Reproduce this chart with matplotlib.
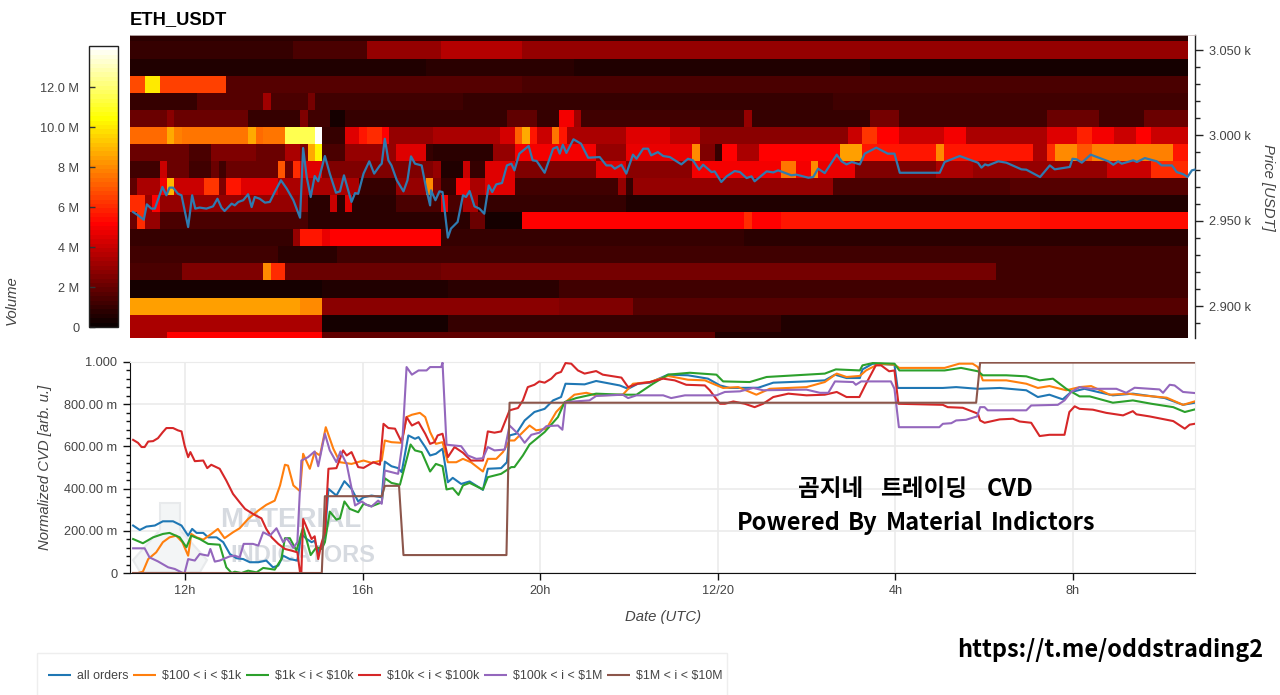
# ETH_USDT 호가 히트맵 + 정규화 CVD 차트
import numpy as np
import matplotlib
matplotlib.use('Agg')
import matplotlib.pyplot as plt
from matplotlib.lines import Line2D
from matplotlib.patches import Polygon, Rectangle
from matplotlib.ticker import FixedLocator, MultipleLocator

plt.rcParams['font.family'] = ['Liberation Sans', 'DejaVu Sans']
plt.rcParams['axes.unicode_minus'] = False

# 데이터
# 히트맵: 가격대별 (연속 칸 수, 거래량 M)
price_levels = [3060, 3050, 3040, 3030, 3020, 3010, 3000, 2990, 2980, 2970, 2960, 2950, 2940, 2930, 2920, 2910, 2900, 2890, 2880]
r3060 = [(143, 0.8)]
r3050 = [(22, 1.0), (10, 1.5), (10, 3.0), (11, 3.7), (50, 3.0), (40, 2.9)]
r3040 = [(40, 0.5), (20, 0.7), (40, 0.5), (43, 0.4)]
r3030 = [(2, 6.6), (2, 10.0), (9, 6.4), (40, 1.6), (50, 1.5), (40, 1.4)]
r3020 = [(9, 1.0), (9, 1.7), (1, 3.1), (5, 1.5), (1, 2.4), (20, 1.2), (50, 1.0), (48, 1.2)]
r3010 = [(5, 2.0), (1, 2.8), (10, 2.0), (7, 1.0), (1, 2.6), (3, 1.2), (2, 0.3), (22, 0.9), (4, 1.8), (3, 1.0), (2, 5.0), (1, 3.2), (22, 1.3), (1, 3.0), (16, 1.0), (4, 2.4), (20, 1.2), (7, 2.0), (6, 1.2), (6, 2.0)]
r3000 = [(5, 7.4), (1, 8.6), (1, 7.8), (9, 7.5), (1, 8.6), (1, 7.4), (3, 7.6), (4, 11.5), (1, 14.0), (3, 1.0), (2, 4.5), (1, 5.6), (2, 6.0), (1, 5.2), (6, 3.0), (9, 3.5), (2, 4.2), (1, 7.2), (1, 8.6), (1, 5.5), (2, 4.0), (1, 7.5), (1, 5.5), (8, 3.5), (6, 4.4), (4, 3.8), (20, 2.8), (2, 4.0), (2, 6.3), (3, 5.2), (6, 4.0), (3, 5.0), (11, 3.5), (4, 4.5), (2, 5.8), (3, 5.0), (3, 4.0), (2, 5.2), (5, 4.0)]
r2990 = [(8, 2.0), (3, 1.5), (6, 2.6), (4, 2.0), (2, 3.5), (1, 2.5), (1, 8.7), (1, 10.2), (3, 1.5), (7, 3.0), (4, 4.5), (1, 1.0), (8, 0.8), (3, 3.0), (11, 4.9), (4, 3.0), (9, 4.7), (1, 8.0), (2, 2.5), (1, 1.0), (2, 5.2), (3, 3.5), (11, 5.2), (3, 8.4), (10, 5.6), (1, 8.0), (12, 5.5), (2, 3.5), (1, 6.0), (3, 8.0), (2, 7.0), (11, 7.8), (2, 5.5)]
r2980 = [(4, 1.2), (1, 4.0), (3, 2.0), (3, 1.2), (1, 2.0), (1, 1.2), (7, 2.0), (1, 7.0), (1, 2.0), (1, 6.0), (3, 4.5), (3, 2.5), (12, 2.6), (1, 3.0), (3, 0.6), (1, 4.0), (2, 1.0), (4, 4.5), (11, 2.5), (4, 4.5), (9, 2.8), (2, 5.0), (10, 5.0), (2, 7.5), (2, 5.0), (1, 8.0), (5, 4.8), (11, 2.5), (5, 3.5), (9, 3.0), (9, 3.0), (6, 4.0), (5, 6.0)]
r2970 = [(1, 1.8), (3, 3.5), (1, 5.0), (1, 8.8), (4, 4.0), (2, 6.2), (1, 2.5), (2, 5.5), (5, 4.5), (5, 3.5), (6, 3.5), (5, 1.0), (4, 3.0), (1, 8.0), (1, 2.5), (2, 1.0), (2, 5.0), (2, 3.5), (4, 4.5), (14, 1.2), (1, 3.0), (1, 1.0), (27, 3.0), (4, 1.5), (20, 1.4), (24, 1.7)]
r2960 = [(2, 6.0), (1, 3.0), (1, 5.2), (20, 3.0), (3, 0.8), (1, 4.0), (1, 0.8), (1, 4.5), (6, 0.8), (6, 1.5), (1, 5.0), (2, 1.5), (2, 3.5), (20, 1.0), (76, 0.65)]
r2950 = [(1, 2.0), (1, 6.0), (2, 3.0), (20, 1.5), (19, 0.7), (3, 0.7), (2, 2.0), (5, 0.4), (30, 5.1), (1, 6.0), (4, 5.1), (35, 5.6), (20, 5.3)]
r2940 = [(22, 1.0), (1, 3.0), (3, 5.6), (1, 4.8), (15, 5.1), (41, 0.9), (60, 0.8)]
r2930 = [(20, 1.2), (8, 0.7), (40, 1.2), (75, 1.1)]
r2920 = [(7, 1.5), (11, 2.5), (1, 8.0), (2, 6.0), (21, 2.0), (75, 2.3), (26, 1.2)]
r2910 = [(26, 0.4), (17, 0.5), (15, 0.7), (85, 1.2)]
r2900 = [(23, 8.4), (3, 8.0), (32, 2.8), (10, 2.6), (75, 1.6)]
r2890 = [(26, 3.3), (17, 0.3), (45, 0.9), (55, 0.5)]
r2880 = [(5, 3.3), (21, 5.2), (53, 1.8), (64, 0.6)]
heat_rows = [r3060, r3050, r3040, r3030, r3020, r3010, r3000, r2990, r2980, r2970, r2960, r2950, r2940, r2930, r2920, r2910, r2900, r2890, r2880]

# 가격 라인 (시간 h, USDT)
price_t = [10.83, 10.94, 11.07, 11.14, 11.24, 11.32, 11.41, 11.49, 11.58, 11.65, 11.73, 11.84, 11.92, 12.07, 12.16, 12.23, 12.33, 12.48, 12.63, 12.73, 12.82, 12.89, 13.05, 13.12, 13.20, 13.31, 13.42, 13.50, 13.57, 13.68, 13.80, 13.91, 14.02, 14.16, 14.29, 14.44, 14.59, 14.66, 14.74, 14.83, 14.92, 15.00, 15.15, 15.26, 15.40, 15.49, 15.58, 15.75, 15.83, 15.90, 16.02, 16.15, 16.26, 16.39, 16.43, 16.50, 16.58, 16.65, 16.77, 16.92, 17.01, 17.09, 17.18, 17.33, 17.44, 17.52,
           17.54, 17.64, 17.73, 17.80, 17.92, 17.99, 18.14, 18.26, 18.33, 18.41, 18.52, 18.63, 18.74, 18.84, 18.92, 19.01, 19.14, 19.25, 19.35, 19.42, 19.53, 19.74, 19.83, 19.92, 20.10, 20.29, 20.38, 20.44, 20.51, 20.59, 20.75, 20.92, 21.08, 21.34, 21.49, 21.60, 21.68, 21.83, 21.94, 22.09, 22.17, 22.32, 22.43, 22.50, 22.65, 22.77, 22.92, 23.18, 23.33, 23.44, 23.58, 23.67, 23.86, 23.93, 24.08, 24.20, 24.38, 24.50, 24.65, 24.76, 24.83, 25.10, 25.25, 25.36, 25.66, 25.77, 26.04, 26.15, 26.26, 26.41, 26.68, 26.79, 26.90, 27.02, 27.20,
           27.31, 27.57, 27.83, 27.98, 28.10, 29.00, 29.11, 29.45, 29.86, 29.94, 30.02, 30.09, 30.32, 30.50, 30.84, 30.95, 31.26, 31.48, 31.59, 31.78, 31.93, 31.99, 32.08, 32.20, 32.40, 32.80, 32.91, 33.02, 33.10, 33.36, 33.44, 33.62, 33.89, 34.00, 34.23, 34.34, 34.49, 34.58, 34.68, 34.74]
price_v = [2955.1, 2953.2, 2950.6, 2959.6, 2957.1, 2957.1, 2963.9, 2969.8, 2964.9, 2969.4, 2969.4, 2965.8, 2964.9, 2946.3, 2964.9, 2957.1, 2957.7, 2957.1, 2958.4, 2962.9, 2957.7, 2955.7, 2960.0, 2959.0, 2961.0, 2962.0, 2965.5, 2958.0, 2963.9, 2962.9, 2960.6, 2961.0, 2966.8, 2973.7, 2968.8, 2962.0, 2951.8, 2992.6, 2975.6, 2963.9, 2976.2, 2973.1, 2987.9, 2977.6, 2966.4, 2967.2, 2976.6, 2961.0, 2966.2, 2965.8, 2977.6, 2984.8, 2977.6, 2982.4, 2983.4, 2998.0, 2985.4, 2982.4, 2973.7, 2967.2, 2973.7, 2987.7, 2983.4, 2982.4, 2967.8, 2959.0,
           2967.8, 2962.0, 2967.2, 2966.8, 2940.1, 2945.4, 2949.3, 2964.9, 2963.9, 2967.4, 2958.4, 2957.1, 2954.1, 2970.7, 2966.8, 2971.3, 2972.1, 2982.4, 2983.4, 2979.5, 2989.3, 2993.8, 2985.4, 2985.0, 2978.1, 2992.2, 2993.2, 2989.3, 2994.5, 2989.7, 2997.7, 2995.1, 2986.9, 2987.3, 2982.4, 2982.4, 2980.5, 2982.8, 2977.6, 2988.7, 2986.3, 2992.2, 2992.2, 2988.3, 2990.2, 2987.9, 2987.3, 2983.0, 2986.3, 2985.4, 2979.9, 2982.8, 2978.5, 2978.9, 2972.7, 2976.0, 2979.1, 2978.5, 2975.0, 2976.0, 2973.1, 2978.9, 2978.3, 2979.5, 2976.6, 2977.0, 2975.2, 2975.6, 2980.5, 2977.9, 2988.7, 2984.8, 2983.0, 2984.4, 2983.0,
           2989.3, 2992.8, 2989.3, 2989.3, 2978.1, 2978.1, 2984.4, 2987.9, 2984.0, 2981.1, 2983.0, 2982.4, 2984.8, 2984.0, 2980.1, 2979.9, 2975.6, 2982.4, 2980.1, 2980.9, 2981.5, 2986.3, 2986.0, 2984.0, 2988.7, 2984.8, 2982.8, 2984.8, 2983.4, 2985.4, 2984.4, 2986.7, 2984.8, 2982.4, 2982.4, 2978.5, 2977.2, 2975.6, 2979.5, 2979.9]

# CVD 시리즈 (시간 h, 정규화 값)
blue_t = [10.83, 10.98, 11.13, 11.32, 11.50, 11.73, 11.92, 12.07, 12.16, 12.26, 12.41, 12.52, 12.71, 12.86, 13.01, 13.16, 13.31, 13.46, 13.65, 13.83, 13.98, 14.10, 14.21, 14.36, 14.53, 14.62, 14.74, 14.85, 14.92, 15.00, 15.15, 15.23, 15.41, 15.59, 15.75, 15.90, 16.02, 16.20, 16.43, 16.50, 16.65, 16.80, 16.88, 17.03, 17.18, 17.26, 17.41, 17.52,
          17.65, 17.80, 17.92, 18.03, 18.22, 18.41, 18.71, 18.82, 19.12, 19.25, 19.31, 19.46, 19.65, 19.87, 20.10, 20.29, 20.47, 20.57, 21.00, 21.26, 21.79, 21.98, 22.20, 22.47, 22.88, 23.33, 23.78, 24.05, 24.27, 24.91, 25.25, 26.00, 26.41, 26.64, 26.90, 27.20,
          27.26, 27.49, 27.98, 28.05, 29.07, 29.37, 29.86, 30.35, 30.95, 31.21, 31.47, 31.77, 31.96, 32.26, 32.56, 32.90, 33.35, 34.07, 34.48, 34.74]
blue_v = [.225, .204, .220, .225, .245, .245, .225, .177, .209, .190, .190, .169, .169, .146, .090, .070, .066, .051, .051, .059, .027, .035, .082, .066, .059, .185, .161, .146, .153, .098, .177, .399, .367, .435, .399, .339, .359, .367, .359, .528, .506, .497, .478, .652, .636, .644, .597, .557,
          .565, .589, .430, .451, .422, .434, .394, .494, .497, .525, .652, .660, .723, .763, .778, .818, .834, .897, .894, .910, .889, .873, .897, .902, .940, .937, .921, .889, .877, .878, .902, .908, .913, .940, .924, .924,
          .965, .992, .987, .877, .877, .881, .873, .877, .866, .834, .845, .823, .858, .873, .858, .842, .850, .829, .797, .807]

orange_t = [10.83, 10.94, 11.05, 11.17, 11.35, 11.50, 11.65, 11.80, 11.94, 12.07, 12.14, 12.26, 12.41, 12.59, 12.74, 12.89, 13.08, 13.23, 13.42, 13.65, 13.83, 14.02, 14.14, 14.25, 14.32, 14.44, 14.59, 14.66, 14.81, 14.92, 15.04, 15.17, 15.34, 15.49, 15.75, 16.02, 16.20, 16.43, 16.50, 16.65, 16.88, 16.99, 17.11, 17.29, 17.41, 17.52,
            17.65, 17.80, 17.92, 18.11, 18.26, 18.44, 18.71, 18.82, 19.01, 19.16, 19.31, 19.42, 19.76, 19.91, 20.14, 20.36, 20.57, 20.77, 21.04, 21.26, 21.86, 22.09, 22.47, 22.88, 23.33, 23.71, 24.12, 24.46, 24.87, 25.17, 26.00, 26.41, 26.68, 26.90, 27.20,
            27.34, 27.64, 27.98, 28.09, 29.11, 29.44, 29.74, 29.86, 29.97, 30.50, 30.95, 31.21, 31.47, 31.85, 32.15, 32.41, 32.83, 33.24, 33.54, 34.11, 34.48, 34.74]
orange_v = [0, 0, .006, .066, .098, .146, .169, .177, .146, .082, .185, .169, .158, .185, .209, .165, .193, .212, .256, .296, .323, .343, .415, .513, .509, .415, .388, .565, .494, .573, .557, .691, .589, .525, .517, .533, .522, .533, .628, .620, .617, .739, .750, .759, .739, .668,
            .612, .620, .525, .525, .541, .525, .481, .541, .541, .573, .628, .628, .699, .676, .684, .763, .810, .845, .854, .842, .845, .897, .905, .934, .916, .913, .877, .881, .845, .873, .881, .905, .945, .929, .934,
            .960, .992, .987, .972, .972, .992, .992, .976, .913, .913, .897, .877, .886, .866, .881, .886, .845, .850, .842, .831, .797, .813]

green_t = [10.83, 11.05, 11.28, 11.50, 11.65, 11.88, 12.03, 12.14, 12.33, 12.52, 12.78, 12.93, 13.05, 13.12, 13.27, 13.42, 13.61, 13.76, 14.02, 14.17, 14.25, 14.36, 14.51, 14.66, 14.83, 14.96, 15.08, 15.15, 15.26, 15.41, 15.49, 15.59, 15.71, 15.90, 16.02, 16.20, 16.43, 16.50, 16.65, 16.84, 17.08, 17.18, 17.33, 17.52,
           17.65, 17.80, 17.89, 18.03, 18.16, 18.26, 18.41, 18.71, 18.82, 19.12, 19.35, 19.42, 19.61, 19.76, 20.10, 20.40, 20.55, 20.81, 21.26, 21.86, 22.17, 22.54, 22.88, 23.37, 23.97, 24.12, 24.72, 25.10, 26.00, 26.41, 26.66, 27.20,
           27.26, 27.49, 27.98, 28.09, 29.11, 29.48, 29.86, 29.97, 30.50, 30.95, 31.25, 31.55, 31.85, 32.15, 32.38, 32.90, 33.35, 33.77, 34.26, 34.52, 34.74]
green_v = [.161, .141, .169, .185, .190, .169, .122, .177, .161, .138, .134, .027, 0, .006, 0, .011, .003, .024, .016, .066, .165, .165, .106, .217, .085, .122, .114, .146, .291, .253, .259, .339, .304, .288, .328, .316, .335, .449, .427, .418, .609, .581, .573, .481,
           .517, .506, .396, .402, .370, .415, .427, .396, .454, .470, .502, .502, .557, .609, .668, .739, .810, .829, .850, .845, .845, .897, .940, .949, .940, .908, .905, .929, .940, .945, .965, .960,
           .984, .995, .992, .960, .960, .972, .956, .937, .937, .932, .913, .921, .873, .837, .837, .807, .818, .802, .786, .763, .775]

red_t = [10.83, 10.94, 11.02, 11.09, 11.17, 11.28, 11.39, 11.50, 11.58, 11.73, 11.84, 11.92, 11.99, 12.07, 12.12, 12.22, 12.41, 12.50, 12.59, 12.78, 12.93, 13.08, 13.23, 13.35, 13.53, 13.72, 13.83, 13.95, 14.10, 14.25, 14.40, 14.53, 14.59, 14.62, 14.66, 14.77, 14.85, 14.92, 15.00, 15.08, 15.15, 15.23, 15.41, 15.56, 15.64, 15.75, 15.90, 16.02, 16.24, 16.39, 16.47, 16.58, 16.73, 16.88, 16.99, 17.11, 17.26, 17.41, 17.52,
         17.62, 17.69, 17.80, 17.92, 18.07, 18.26, 18.44, 18.71, 18.82, 18.97, 19.12, 19.31, 19.50, 19.61, 19.72, 19.87, 19.98, 20.10, 20.25, 20.36, 20.47, 20.57, 20.70, 20.85, 21.00, 21.26, 21.41, 21.83, 21.98, 22.20, 22.47, 22.77, 23.03, 23.29, 23.71, 23.82, 24.05, 24.16, 24.35, 24.61, 24.83, 25.02, 25.25, 25.59, 26.00, 26.41, 26.68, 26.90, 27.19,
         27.34, 27.56, 27.68, 27.86, 27.98, 28.07, 29.07, 29.18, 29.52, 29.86, 29.91, 30.01, 30.35, 30.65, 30.80, 31.06, 31.25, 31.47, 31.81, 31.92, 32.04, 32.15, 32.45, 32.75, 33.13, 33.35, 33.43, 33.73, 34.26, 34.52, 34.63, 34.74]
red_v = [.631, .617, .597, .597, .623, .625, .639, .668, .687, .687, .676, .671, .604, .549, .573, .530, .533, .497, .513, .494, .438, .375, .335, .304, .280, .259, .209, .169, .138, .114, .106, .098, .003, .003, .256, .201, .161, .174, .066, .146, .193, .494, .497, .581, .557, .573, .502, .498, .525, .513, .707, .687, .684, .620, .739, .699, .715, .660, .612,
         .620, .652, .660, .549, .597, .570, .533, .533, .671, .665, .671, .771, .782, .818, .881, .892, .908, .902, .921, .945, .953, .995, .992, .960, .945, .957, .940, .926, .881, .897, .905, .921, .913, .892, .889, .866, .802, .802, .813, .802, .786, .802, .834, .850, .842, .845, .858, .834, .834,
         .897, .984, .984, .956, .960, .802, .797, .786, .783, .755, .723, .712, .728, .731, .718, .712, .649, .655, .655, .763, .790, .778, .774, .759, .747, .767, .752, .742, .720, .684, .703, .707]

purple_t = [10.83, 11.09, 11.20, 11.39, 11.62, 11.77, 11.95, 11.99, 12.07, 12.22, 12.33, 12.52, 12.57, 12.67, 12.78, 13.01, 13.12, 13.23, 13.32, 13.53, 13.65, 13.76, 13.91, 14.06, 14.21, 14.29, 14.44, 14.53, 14.62, 14.77, 14.92, 15.00, 15.15, 15.26, 15.41, 15.50, 15.64, 15.83, 15.98, 16.09, 16.20, 16.35, 16.43, 16.50, 16.65, 16.80, 16.89, 16.99, 17.11, 17.26, 17.44, 17.52,
            17.77, 17.80, 17.89, 18.22, 18.37, 18.56, 18.71, 18.82, 18.97, 19.20, 19.31, 19.50, 19.65, 19.80, 19.98, 20.14, 20.40, 20.50, 20.57, 21.11, 21.26, 21.86, 21.98, 22.17, 22.77, 22.95, 23.26, 23.97, 24.16, 24.50, 24.80, 25.02, 26.00, 26.30, 26.49, 26.64, 27.05,
            27.11, 27.23, 27.90, 27.98, 28.08, 28.99, 29.07, 29.26, 29.37, 29.59, 29.84, 29.91, 30.01, 30.08, 30.95, 31.06, 31.66, 31.81, 31.96, 32.15, 32.41, 32.98, 33.20, 33.39, 33.95, 34.03, 34.18, 34.29, 34.48, 34.74]
purple_v = [.117, .117, .074, .055, .027, .019, 0, 0, .066, .059, .090, .082, .114, .054, .059, .079, .082, .074, .138, .138, .130, .193, .177, .212, .146, .165, .119, .146, .533, .549, .576, .506, .660, .581, .525, .576, .517, .320, .339, .323, .315, .343, .328, .486, .478, .470, .604, .976, .940, .960, .960, .976,
            .976, .997, .608, .601, .557, .541, .544, .597, .581, .585, .699, .660, .617, .655, .665, .696, .699, .679, .810, .818, .839, .845, .829, .842, .842, .829, .842, .842, .858, .861, .877, .866, .869, .854, .854, .908, .905,
            .892, .908, .908, .873, .691, .691, .707, .710, .723, .726, .742, .786, .786, .771, .771, .794, .797, .818, .858, .881, .873, .873, .854, .878, .870, .854, .892, .889, .858, .853]

brown_t = [10.83, 15.08, 15.15, 16.43, 16.50, 16.82, 16.92, 19.24, 19.31, 29.82, 29.91, 34.74]
brown_v = [0, 0, .364, .364, .413, .413, .085, .085, .807, .807, .997, .997]

series_labels = ['all orders', '$100 < i < $1k', '$1k < i < $10k', '$10k < i < $100k', '$100k < i < $1M', '$1M < i < $10M']
series_colors = ['#1f77b4', '#ff7f0e', '#2ca02c', '#d62728', '#9467bd', '#8c564b']
x_ticks = [12, 16, 20, 24, 28, 32]
x_ticklabels = ['12h', '16h', '20h', '12/20', '4h', '8h']
cvd_ticks = [0, 0.2, 0.4, 0.6, 0.8, 1.0]
cvd_ticklabels = ['0', '200.00 m', '400.00 m', '600.00 m', '800.00 m', '1.000']
vol_ticks = [0, 2, 4, 6, 8, 10, 12]
vol_ticklabels = ['0', '2 M', '4 M', '6 M', '8 M', '10.0 M', '12.0 M']
price_ticks = [2900, 2950, 3000, 3050]
price_ticklabels = ['2.900 k', '2.950 k', '3.000 k', '3.050 k']

W, H = 1280, 695
TXT = '#444444'
KR = ['Noto Sans CJK KR', 'DejaVu Sans']

def rect(x0, y0, x1, y1):
    # 픽셀 좌표(위가 0) -> add_axes 사각형
    return [x0 / W, 1 - y1 / H, (x1 - x0) / W, (y1 - y0) / H]

def px(x, y):
    return x / W, 1 - y / H

def expand(row, n=143):
    vals = np.repeat([r[1] for r in row], [r[0] for r in row])
    if len(vals) < n:
        vals = np.pad(vals, (0, n - len(vals)), mode='edge')
    return vals[:n]

fig = plt.figure(figsize=(W / 100, H / 100), dpi=100)
fig.patch.set_facecolor('white')
t_min, t_max = 10.76, 34.75

# 히트맵
ax = fig.add_axes(rect(130, 35, 1195, 338))
z = np.array([expand(r) for r in heat_rows])
t_edges = t_min + np.arange(z.shape[1] + 1) / 6
p_edges = np.array(price_levels + [price_levels[-1] - 10]) + 5
cmap = plt.get_cmap('hot', 64)
mesh = ax.pcolormesh(t_edges, p_edges, z, cmap=cmap, vmin=0, vmax=14.05, shading='flat', antialiased=False)
ax.plot(price_t, price_v, color='#2f7bb0', lw=1.6, clip_on=False, zorder=3)
ax.set_xlim(t_min, t_max)
ax.set_ylim(2881.3, 3058.8)
ax.set_xticks([])
ax.yaxis.tick_right()
ax.set_yticks(price_ticks)
ax.set_yticklabels(price_ticklabels)
ax.yaxis.set_minor_locator(MultipleLocator(10))
ax.tick_params(axis='y', which='major', direction='out', length=6, width=1, color='#222222', labelcolor=TXT, labelsize=9.2, pad=4)
ax.tick_params(axis='y', which='minor', direction='out', length=3.5, width=1, color='#222222')
for s in ['left', 'bottom']:
    ax.spines[s].set_visible(False)
ax.spines['top'].set_color('#c8bcbc')
ax.spines['top'].set_linewidth(0.6)
ax.spines['right'].set_color('#222222')
ax.spines['right'].set_linewidth(1)

# 컬러바
cax = fig.add_axes(rect(89, 46, 118, 327))
cb = fig.colorbar(mesh, cax=cax)
cb.set_ticks(vol_ticks)
cb.set_ticklabels(vol_ticklabels)
cax.yaxis.set_ticks_position('left')
cax.tick_params(axis='y', direction='in', length=4, width=1, color='#333333', labelcolor=TXT, labelsize=9.2, pad=7)
cb.outline.set_edgecolor('#222222')
cb.outline.set_linewidth(1)

# CVD
ax2 = fig.add_axes(rect(130, 362, 1195, 573))
ax2.set_axisbelow(True)
ax2.grid(True, color='#ebebeb', lw=1.2)
cvd_series = [(blue_t, blue_v), (orange_t, orange_v), (green_t, green_v), (red_t, red_v), (purple_t, purple_v), (brown_t, brown_v)]
for (tt, vv), c in zip(cvd_series, series_colors):
    ax2.plot(tt, vv, color=c, lw=1.5, zorder=3)
ax2.set_xlim(t_min, t_max)
ax2.set_ylim(0, 1)
ax2.set_xticks(x_ticks)
ax2.set_xticklabels(x_ticklabels)
ax2.set_yticks(cvd_ticks)
ax2.set_yticklabels(cvd_ticklabels)
ax2.yaxis.set_minor_locator(FixedLocator(np.arange(0, 1.001, 0.04)))
ax2.tick_params(axis='both', which='major', direction='out', length=5, width=1, color='#111111', labelcolor=TXT, labelsize=9.2, pad=4)
ax2.tick_params(axis='y', which='minor', direction='out', length=3, width=1, color='#111111')
for s in ['top', 'right']:
    ax2.spines[s].set_color('#ebebeb')
for s in ['left', 'bottom']:
    ax2.spines[s].set_color('#111111')

# 워터마크
wm = '#d6dae0'
ax2.add_patch(Polygon([px(160, 503), px(180, 503), px(180, 530), px(207, 560), px(200, 572), px(140, 572), px(133, 560), px(160, 530)],
                      closed=True, transform=fig.transFigure, facecolor='#f3f5f6', edgecolor='#e8eaec', lw=1.5, zorder=1))
ax2.text(*px(220, 520), 'MATERIAL', transform=fig.transFigure, color=wm, fontsize=20, fontweight='bold', va='center', ha='left', zorder=2)
ax2.text(*px(230, 555), 'INDICATORS', transform=fig.transFigure, color=wm, fontsize=17, fontweight='bold', va='center', ha='left', zorder=2)

# 텍스트
fig.text(*px(130, 20), 'ETH_USDT', fontsize=13.2, fontweight='bold', color='black', va='center', ha='left')
fig.text(*px(12, 300), 'Volume', fontsize=10.7, style='italic', color=TXT, rotation=90, va='center', ha='center')
fig.text(*px(1268, 187), 'Price [USDT]', fontsize=10.7, style='italic', color=TXT, rotation=-90, va='center', ha='center')
fig.text(*px(45, 467), 'Normalized CVD [arb. u.]', fontsize=10.7, style='italic', color=TXT, rotation=90, va='center', ha='center')
fig.text(*px(663, 617), 'Date (UTC)', fontsize=10.7, style='italic', color=TXT, va='center', ha='center')
# 단어 간격이 넓어서 단어별로 배치
for word, x in [('곰지네', 798), ('트레이딩', 880), ('CVD', 987)]:
    fig.text(*px(x, 489), word, family=KR, fontsize=17, fontweight='bold', color='black', va='center', ha='left')
for word, x in [('Powered', 737), ('By', 848), ('Material', 886), ('Indictors', 991)]:
    fig.text(*px(x, 523), word, family=KR, fontsize=17, fontweight='bold', color='black', va='center', ha='left')
fig.text(*px(1110, 650), 'https://t.me/oddstrading2', family=KR, fontsize=16.9, fontweight='bold', color='black', va='center', ha='center')

# 범례
fig.add_artist(Rectangle(px(37, 700), 690 / W, 47 / H, transform=fig.transFigure, facecolor='white', edgecolor='#eeeeee', lw=1))
handles = [Line2D([0], [0], color=c, lw=1.5, solid_capstyle='butt') for c in series_colors]
leg = fig.legend(handles, [s.replace('$', r'\$') for s in series_labels], loc='center left', bbox_to_anchor=px(48, 676), ncol=6, fontsize=8.95,
                 handlelength=1.85, handletextpad=0.5, columnspacing=0.35, borderpad=0, borderaxespad=0,
                 frameon=False, labelcolor=TXT)

plt.savefig('out.png', dpi=100)
